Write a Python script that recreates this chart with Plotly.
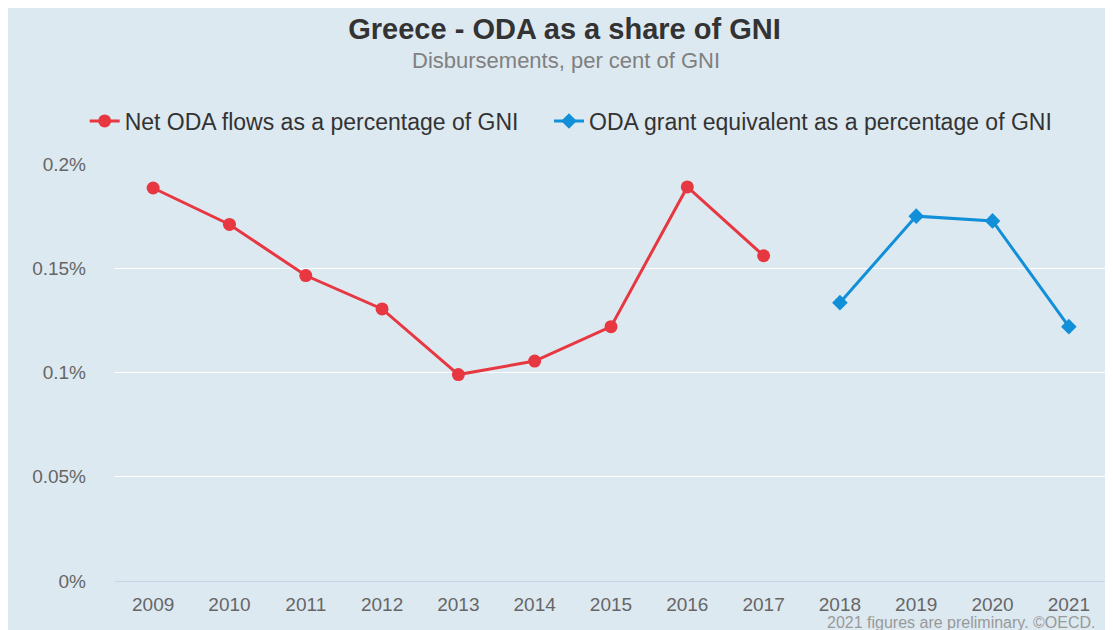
import plotly.graph_objects as go

years = ["2009", "2010", "2011", "2012", "2013", "2014", "2015", "2016", "2017", "2018", "2019", "2020", "2021"]
net_oda_years = ["2009", "2010", "2011", "2012", "2013", "2014", "2015", "2016", "2017"]
net_oda_values = [0.1885, 0.1710, 0.1465, 0.1305, 0.0990, 0.1055, 0.1220, 0.1890, 0.1560]
ge_years = ["2018", "2019", "2020", "2021"]
ge_values = [0.1335, 0.1750, 0.1727, 0.1220]
y_tick_values = [0, 0.05, 0.1, 0.15, 0.2]
y_tick_labels = ["0%", "0.05%", "0.1%", "0.15%", "0.2%"]

BG = "#DDE9F1"
FONT = "Liberation Sans, Arial, sans-serif"

fig = go.Figure()
fig.add_trace(go.Scatter(
    x=net_oda_years, y=net_oda_values, mode="lines+markers",
    name="Net ODA flows as a percentage of GNI    ",
    line=dict(color="#E73741", width=3),
    marker=dict(symbol="circle", size=13, color="#E73741"),
    cliponaxis=False,
))
fig.add_trace(go.Scatter(
    x=ge_years, y=ge_values, mode="lines+markers",
    name="ODA grant equivalent as a percentage of GNI",
    line=dict(color="#128FD9", width=3),
    marker=dict(symbol="diamond", size=12, color="#128FD9"),
    cliponaxis=False,
))

W, H = 1113, 630
L, R, T, B = 107, 14, 156, 57
pw, ph = W - L - R, H - T - B

fig.update_layout(
    width=W, height=H,
    margin=dict(l=L, r=R, t=T, b=B, autoexpand=False),
    paper_bgcolor=BG,
    plot_bgcolor=BG,
    font=dict(family=FONT, color="#666666"),
    title=dict(text="<b>Greece - ODA as a share of GNI</b>",
               x=0.5, xref="container", xanchor="center",
               y=1 - 21 / H, yref="container", yanchor="middle",
               font=dict(size=29, color="#333333", family=FONT)),
    legend=dict(orientation="h", xref="container", x=0.506, xanchor="center",
                yref="container", y=1 - 113 / H, yanchor="middle",
                font=dict(size=23, color="#333333"), bgcolor="rgba(0,0,0,0)",
                itemwidth=30, tracegroupgap=0),
    showlegend=True,
    xaxis=dict(type="category", categoryorder="array", categoryarray=years,
               range=[-0.5, len(years) - 0.5],
               showgrid=False, showline=True, linecolor="#C8D3E8", linewidth=1,
               ticks="", tickfont=dict(size=19, color="#666666"),
               ticklabelstandoff=6, zeroline=False),
    yaxis=dict(range=[0, 0.2], tickmode="array", tickvals=y_tick_values,
               ticktext=y_tick_labels, showgrid=True, gridcolor="white", gridwidth=1,
               zeroline=False, ticks="", tickfont=dict(size=19, color="#666666"),
               ticklabelstandoff=28, showline=False),
    annotations=[
        dict(text="Disbursements, per cent of GNI", xref="paper", yref="paper",
             x=(558 - L) / pw, y=(H - B - 53) / ph, xanchor="center", yanchor="middle",
             showarrow=False, font=dict(size=22, color="#808080", family=FONT)),
        dict(text="2021 figures are preliminary. ©OECD.", xref="paper", yref="paper",
             x=(1089 - L) / pw, y=(H - B - 614) / ph, xanchor="right", yanchor="middle",
             showarrow=False, font=dict(size=16, color="#999999", family=FONT)),
    ],
)

fig.write_html("out.html")
